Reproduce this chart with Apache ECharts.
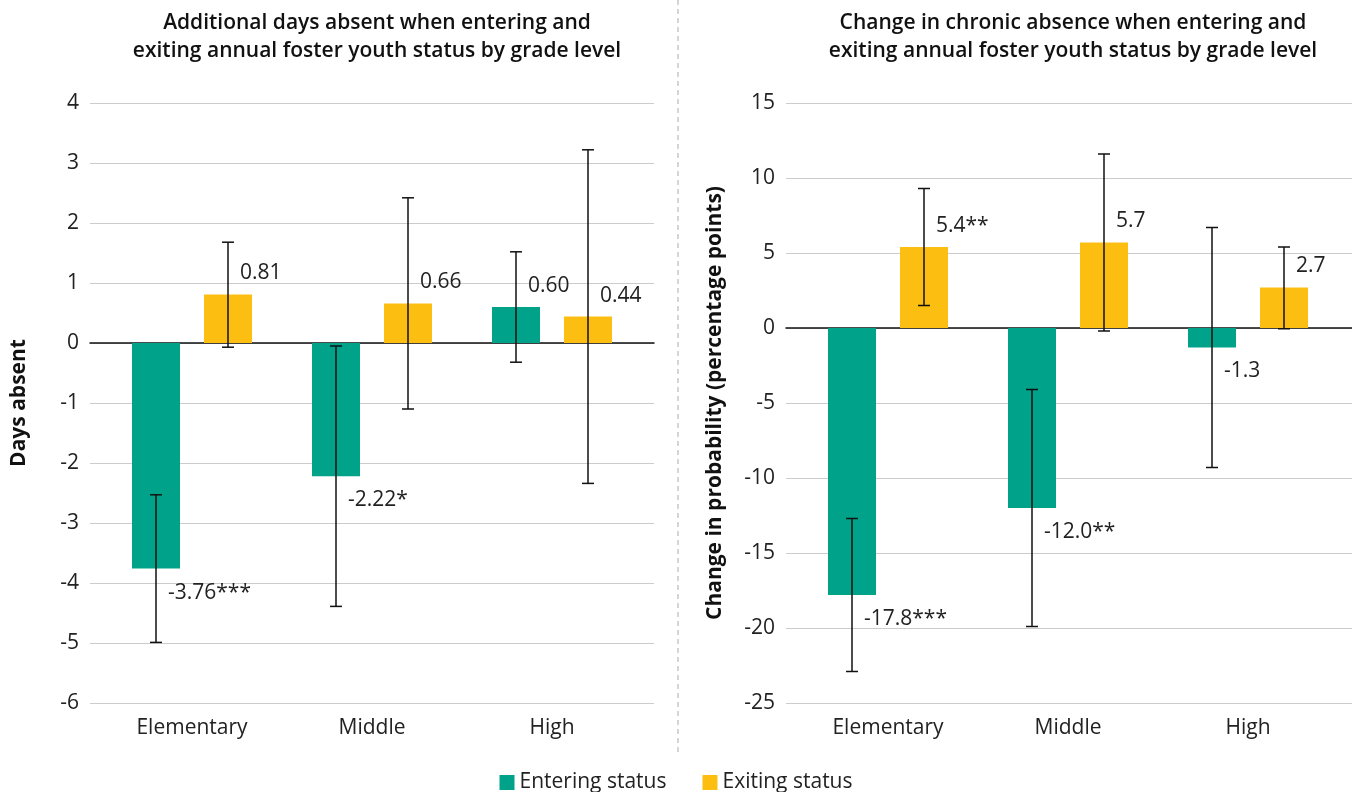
<!DOCTYPE html>
<html>
<head>
<meta charset="utf-8">
<script src="https://cdn.jsdelivr.net/npm/echarts@6/dist/echarts.min.js"></script>
<style>
html,body{margin:0;padding:0;background:#fff;}
#chart{width:1352px;height:792px;}
</style>
</head>
<body>
<div id="chart"></div>
<script>
const categories = ['Elementary', 'Middle', 'High'];
const seriesNames = ['Entering status', 'Exiting status'];

const daysEntering = [-3.76, -2.22, 0.60];
const daysExiting = [0.81, 0.66, 0.44];
const daysEnteringCI = [[-4.99, -2.53], [-4.39, -0.05], [-0.32, 1.52]];
const daysExitingCI = [[-0.07, 1.68], [-1.10, 2.42], [-2.34, 3.22]];
const daysEnteringLabels = ['-3.76***', '-2.22*', '0.60'];
const daysExitingLabels = ['0.81', '0.66', '0.44'];

const chronicEntering = [-17.8, -12.0, -1.3];
const chronicExiting = [5.4, 5.7, 2.7];
const chronicEnteringCI = [[-22.9, -12.7], [-19.9, -4.1], [-9.3, 6.7]];
const chronicExitingCI = [[1.5, 9.3], [-0.2, 11.6], [-0.05, 5.4]];
const chronicEnteringLabels = ['-17.8***', '-12.0**', '-1.3'];
const chronicExitingLabels = ['5.4**', '5.7', '2.7'];

const leftTitle = 'Additional days absent when entering and\nexiting annual foster youth status by grade level';
const rightTitle = 'Change in chronic absence when entering and\nexiting annual foster youth status by grade level';
const leftAxisName = 'Days absent';
const rightAxisName = 'Change in probability (percentage points)';

const TEAL = '#00A38A';
const YELLOW = '#FDBE12';
const FONT = '"Open Sans", Lato, sans-serif';

const chart = echarts.init(document.getElementById('chart'));

function errData(values, ci) {
  return values.map((v, i) => [i, ci[i][0], ci[i][1], v]);
}

function errRender(offset, labels) {
  return function (params, api) {
    const i = api.value(0);
    const lo = api.coord([i, api.value(1)]);
    const hi = api.coord([i, api.value(2)]);
    const v = api.value(3);
    const vEnd = api.coord([i, v]);
    const x = lo[0] + offset;
    const cap = 6;
    const st = { stroke: '#111', lineWidth: 1.5 };
    return {
      type: 'group',
      children: [
        { type: 'line', shape: { x1: x, y1: lo[1], x2: x, y2: hi[1] }, style: st },
        { type: 'line', shape: { x1: x - cap, y1: lo[1], x2: x + cap, y2: lo[1] }, style: st },
        { type: 'line', shape: { x1: x - cap, y1: hi[1], x2: x + cap, y2: hi[1] }, style: st },
        {
          type: 'text',
          x: x + 12,
          y: vEnd[1] + (v < 0 ? 24 : -21),
          style: {
            text: labels[params.dataIndex],
            fill: '#222',
            font: '21px ' + FONT,
            verticalAlign: 'middle',
            align: 'left'
          }
        }
      ]
    };
  };
}

const gridTop = 103, gridH = 600;

function wideX(gi) {
  return {
    gridIndex: gi, type: 'category', data: [''],
    axisLine: { show: true, onZero: true, lineStyle: { color: '#111', width: 1.5 } },
    axisTick: { show: false }, axisLabel: { show: false }, splitLine: { show: false }
  };
}
function narrowX(gi) {
  return {
    gridIndex: gi, type: 'category', data: categories,
    axisLine: { show: false }, axisTick: { show: false },
    axisLabel: { fontSize: 21, color: '#222', fontFamily: FONT, margin: 15 }
  };
}
function wideY(gi, min, max, interval, name, nameGap) {
  return {
    gridIndex: gi, type: 'value', min, max, interval,
    name, nameLocation: 'middle', nameGap,
    nameTextStyle: { fontSize: 21, fontWeight: 'bold', color: '#111', fontFamily: FONT },
    axisLine: { show: false }, axisTick: { show: false },
    axisLabel: { fontSize: 21, color: '#222', fontFamily: FONT, margin: 11 },
    splitLine: { lineStyle: { color: '#cccccc', width: 1 } }
  };
}
function narrowY(gi, min, max, interval) {
  return { gridIndex: gi, type: 'value', min, max, interval, show: false, splitLine: { show: false } };
}

function barSeries(name, data, color, idx) {
  return {
    name, type: 'bar', xAxisIndex: idx, yAxisIndex: idx, data,
    barWidth: 48, barGap: '50%', itemStyle: { color }, z: 2
  };
}
function errSeries(name, values, ci, labels, offset, idx) {
  return {
    name, type: 'custom', xAxisIndex: idx, yAxisIndex: idx,
    data: errData(values, ci), encode: { x: 0, y: [1, 2] },
    renderItem: errRender(offset, labels), z: 5, silent: true
  };
}

const option = {
  animation: false,
  backgroundColor: '#fff',
  textStyle: { fontFamily: FONT },
  title: [
    { text: leftTitle, left: 372, top: 4, textAlign: 'center',
      textStyle: { fontSize: 21, fontWeight: 600, color: '#111', lineHeight: 28, fontFamily: FONT } },
    { text: rightTitle, left: 1068, top: 4, textAlign: 'center',
      textStyle: { fontSize: 21, fontWeight: 600, color: '#111', lineHeight: 28, fontFamily: FONT } }
  ],
  legend: {
    data: seriesNames, left: 'center', top: 767,
    icon: 'rect', itemWidth: 15, itemHeight: 15, itemGap: 36,
    textStyle: { fontSize: 21, color: '#222', fontFamily: FONT }
  },
  grid: [
    { left: 90, top: gridTop, width: 564, height: gridH },
    { left: 102, top: gridTop, width: 540, height: gridH },
    { left: 786, top: gridTop, width: 566, height: gridH },
    { left: 798, top: gridTop, width: 540, height: gridH }
  ],
  xAxis: [wideX(0), narrowX(1), wideX(2), narrowX(3)],
  yAxis: [
    wideY(0, -6, 4, 1, leftAxisName, 60),
    narrowY(1, -6, 4, 1),
    wideY(2, -25, 15, 5, rightAxisName, 60),
    narrowY(3, -25, 15, 5)
  ],
  graphic: [
    { type: 'line', shape: { x1: 678, y1: 0, x2: 678, y2: 752 },
      style: { stroke: '#c8c8c8', lineWidth: 1.5, lineDash: [5, 4] } }
  ],
  series: [
    barSeries(seriesNames[0], daysEntering, TEAL, 1),
    barSeries(seriesNames[1], daysExiting, YELLOW, 1),
    errSeries(seriesNames[0], daysEntering, daysEnteringCI, daysEnteringLabels, -36, 1),
    errSeries(seriesNames[1], daysExiting, daysExitingCI, daysExitingLabels, 36, 1),
    barSeries(seriesNames[0], chronicEntering, TEAL, 3),
    barSeries(seriesNames[1], chronicExiting, YELLOW, 3),
    errSeries(seriesNames[0], chronicEntering, chronicEnteringCI, chronicEnteringLabels, -36, 3),
    errSeries(seriesNames[1], chronicExiting, chronicExitingCI, chronicExitingLabels, 36, 3)
  ]
};
chart.setOption(option);
</script>
</body>
</html>
